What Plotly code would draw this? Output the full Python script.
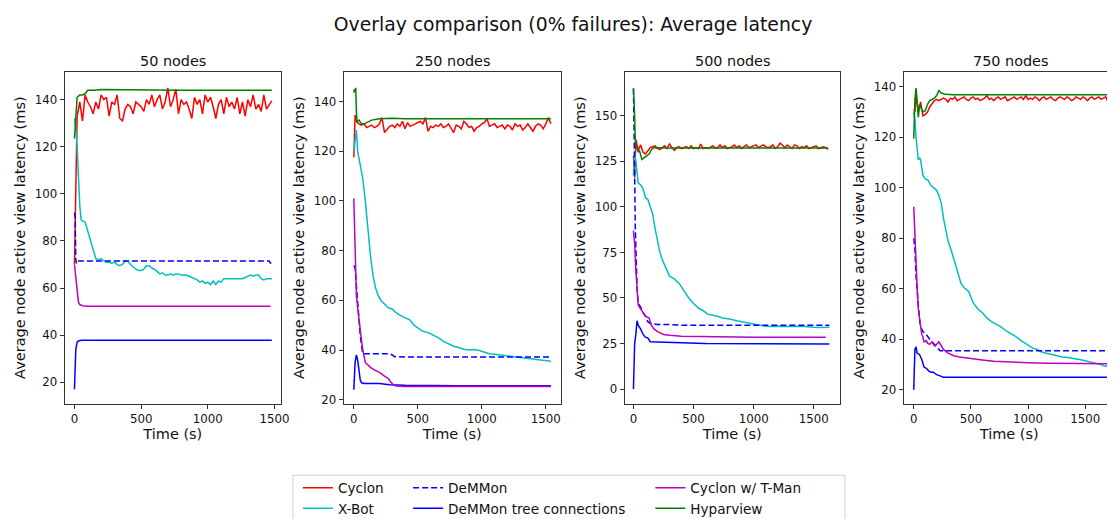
import plotly.graph_objects as go

# ---------------- data ----------------
panel_titles = ["50 nodes", "250 nodes", "500 nodes", "750 nodes"]
series_names = ["Cyclon", "X-Bot", "DeMMon", "DeMMon tree connections", "Cyclon w/ T-Man", "Hyparview"]

# ---- 50 nodes ----
cyclon_50 = [70, 133, 139, 131, 142, 139, 137, 134, 139, 136,
             142, 140, 141, 133, 139, 138, 142, 132, 131, 136,
             138, 137, 134, 139, 138, 137, 135, 140, 138, 142,
             137, 140, 142, 136, 139, 145, 137, 140, 144.5, 134,
             140, 138, 139, 136, 132, 141, 138, 140, 134, 142,
             139, 141, 137, 132, 138, 140, 134, 141, 137, 139,
             136, 141, 134, 139, 133, 140, 137, 142, 136, 138,
             135, 142, 136, 138, 139.5]
cyclon_50_t = [20 * k for k in range(len(cyclon_50))]
xbot_50_t = [0, 10, 20, 30, 40, 50, 60, 80, 100, 120, 140, 160, 180, 200, 220, 240, 260, 280, 300, 320,
             340, 360, 380, 400, 420, 440, 460, 480, 500, 520, 540, 560, 580, 600, 620, 640, 660, 680, 700,
             720, 740, 760, 780, 800, 820, 840, 860, 880, 900, 920, 940, 960, 980, 1000, 1020, 1040, 1060,
             1080, 1100, 1120, 1160, 1200, 1260, 1280, 1300, 1320, 1340, 1360, 1380, 1400, 1420, 1440, 1480]
xbot_50 = [132, 128, 120, 105, 95, 89, 88.5, 88, 84, 80, 76, 72.5, 72, 72.5, 71.5, 71, 71, 70.5, 71, 70,
           69.5, 70, 71.5, 71.5, 70, 69, 68, 67.5, 67.5, 68, 69.5, 69.5, 68.5, 68, 67, 66, 66.5, 65.5, 65.5,
           66, 65.5, 66, 66, 65.5, 65.5, 65.5, 65, 64.5, 64, 63.5, 62.5, 63, 62, 62.5, 61.5, 63, 61.5,
           63, 62.5, 64, 64, 64, 64, 64.5, 65, 65.5, 65, 65.5, 65.5, 64, 63.5, 64, 64]
demmon_50_t = [0, 5, 10, 15, 20, 40, 200, 600, 1000, 1400, 1460, 1470, 1480]
demmon_50 = [92, 90, 72, 70.5, 71.5, 71.5, 71.5, 71.5, 71.5, 71.5, 71.5, 70.5, 71.5]
tree_50_t = [0, 10, 20, 30, 50, 200, 800, 1480]
tree_50 = [17, 34, 37, 37.5, 37.8, 37.8, 37.8, 37.8]
tman_50_t = [0, 10, 20, 30, 40, 60, 100, 600, 1470]
tman_50 = [70, 65, 58, 54, 53, 52.5, 52.3, 52.3, 52.3]
hypar_50_t = [0, 10, 20, 40, 60, 80, 100, 150, 200, 800, 1480]
hypar_50 = [123.5, 135, 141, 142, 142, 142.5, 144, 144, 144.3, 144, 144]

# ---- 250 nodes ----
cyclon_250 = [117.5, 134.5,
              132, 131, 130.5, 131, 129.5, 130, 130.5, 129.5, 130, 131,
              133.5, 127.5, 129, 130, 130.5, 129.5, 131, 130, 132, 129,
              131.5, 130, 130.5, 131, 131.5, 132, 131, 133.5, 128, 130,
              129.5, 130.5, 130, 131, 129.5, 130, 131, 129, 127.5, 130.5,
              130, 129, 132, 131, 129.5, 130, 128, 129.5, 130, 131,
              131.5, 133, 130, 130.5, 131, 129.5, 130, 130.5, 129, 130.5,
              130, 128.5, 131, 130, 130.5, 128.5, 129.5, 131, 129.5, 128,
              130, 131, 130.5, 129, 131, 133.5, 131]
cyclon_250_t = [0, 10] + [20 * k for k in range(1, len(cyclon_250) - 1)]
xbot_250_t = [0, 10, 20, 30, 50, 70, 90, 110, 130, 150, 170, 190, 210, 230, 250, 270, 300, 330, 360, 400,
              440, 470, 500, 540, 580, 620, 660, 700, 740, 780, 820, 860, 900, 940, 980, 1020, 1060, 1100,
              1150, 1200, 1250, 1300, 1350, 1400, 1450, 1500, 1540]
xbot_250 = [120, 125, 128.5, 120, 115, 109, 100, 88, 78, 70, 65, 62, 60, 59, 58, 57, 56.5, 55, 54, 53,
            52, 50, 49, 47.5, 47, 46, 45, 43.5, 42.5, 41.5, 41, 40.3, 40, 40.2, 39.8, 39, 38.5, 38.3,
            38, 37.5, 37.2, 37, 36.7, 36.3, 36, 35.7, 35.5]
demmon_250_t = [0, 10, 20, 30, 40, 50, 60, 70, 100, 200, 280, 300, 320, 400, 1000, 1540]
demmon_250 = [74, 73, 66, 58, 52, 46, 42, 38.5, 38.5, 38.5, 38.5, 38, 37.3, 37.2, 37.2, 37.2]
tree_250_t = [0, 10, 20, 30, 40, 50, 60, 80, 200, 280, 400, 800, 1540]
tree_250 = [24, 35, 38, 36, 32, 28, 26.8, 26.5, 26.5, 26, 25.8, 25.6, 25.6]
tman_250_t = [0, 5, 10, 20, 30, 40, 50, 60, 70, 80, 90, 100, 130, 160, 200, 240, 270, 290, 310, 330,
              400, 1000, 1540]
tman_250 = [101, 90, 78, 62, 57, 52, 48, 44, 40, 37, 35, 34.5, 33, 32, 31, 29.5, 28.5, 27, 26, 25.5,
            25.3, 25.3, 25.3]
hypar_250_t = [0, 5, 10, 15, 20, 25, 40, 60, 80, 100, 140, 200, 300, 400, 1000, 1540]
hypar_250 = [143.5, 145, 144, 145.5, 136, 132, 132.5, 131, 131, 131.5, 132.5, 133, 133.2, 133, 133, 133]

# ---- 500 nodes ----
cyclon_500 = [128, 116,
              137, 131, 134, 130, 129, 131, 132.5, 133, 133.5, 132,
              131.5, 132.5, 133.5, 132, 134.5, 132.5, 131, 132.5, 133, 132,
              132.5, 133, 132, 133.5, 132, 132.5, 132, 134.5, 132, 132.5,
              132, 133, 133.5, 132.5, 132.5, 134, 132.5, 133.5, 132, 132.5,
              133, 134, 132.5, 133.5, 132, 133, 134, 132.5, 133, 133.5,
              134, 132.5, 133.5, 134, 133, 132.5, 133, 134, 132, 133,
              135, 133.5, 132.5, 134, 133, 132, 134, 133.5, 132, 133,
              132.5, 133.5, 132, 132.5, 133, 133.5, 132, 132.5, 133, 132.5,
              131.5]
cyclon_500_t = [0, 10] + [20 * k for k in range(1, len(cyclon_500) - 1)]
xbot_500_t = [0, 10, 20, 30, 40, 60, 80, 100, 120, 140, 160, 180, 200, 220, 240, 260, 280, 300, 340, 380,
              420, 460, 500, 540, 580, 620, 660, 700, 740, 800, 860, 900, 960, 1000, 1050, 1100, 1150,
              1200, 1300, 1400, 1500, 1560, 1630]
xbot_500 = [117, 130, 125, 120, 113, 112, 110, 105, 104, 100, 96, 88, 82, 75, 71, 68, 64, 62, 60.5, 58,
            54, 50, 47, 44.5, 43, 41, 40.5, 40, 39, 38.5, 37.5, 37, 36.5, 36, 35.5, 34.5, 34.3,
            34.5, 34.3, 34.5, 34, 33.8, 34]
demmon_500_t = [0, 5, 10, 15, 20, 30, 40, 60, 80, 100, 120, 140, 200, 300, 400, 1000, 1630]
demmon_500 = [165, 150, 120, 90, 70, 55, 47, 45, 42, 40, 37, 36, 35.5, 35.5, 35, 35, 35]
tree_500_t = [0, 10, 20, 30, 40, 60, 80, 100, 120, 140, 200, 400, 600, 1630]
tree_500 = [0, 25, 30, 37.5, 35, 33, 30, 28.5, 28, 26, 25.8, 25.3, 25, 24.8]
tman_500_t = [0, 10, 20, 30, 40, 60, 80, 100, 130, 150, 170, 200, 250, 300, 400, 600, 800, 1000, 1600]
tman_500 = [87, 80, 65, 55, 46, 44, 42, 40, 39, 35, 33, 31.5, 30, 29.5, 29, 28.8, 28.7, 28.5, 28.5]
hypar_500_t = [0, 5, 10, 15, 20, 30, 40, 50, 60, 70, 90, 110, 130, 150, 170, 200, 300, 1000, 1620]
hypar_500 = [165, 160, 150, 137, 133, 132, 130, 131, 128, 126, 127, 128, 129, 131.5, 132.5, 132.5,
             132.3, 132.3, 132.3]

# ---- 750 nodes ----
cyclon_750 = [131, 130,
              137, 130, 134, 128.5, 129, 130, 132, 133.5, 134.5, 135,
              134.5, 135, 135.5, 135, 134, 135.5, 135, 136, 134.5, 135,
              135.5, 136, 135, 134.5, 135.5, 136, 135, 135.5, 134.5, 135,
              135.5, 136.5, 135, 135.5, 134.5, 135.5, 136, 135, 135.5, 136,
              134.5, 135, 135.5, 136, 135, 135.5, 136, 135, 136.5, 135,
              135.5, 135, 136, 135.5, 134.5, 135.5, 136, 135, 135.5, 136,
              135, 134.5, 135.5, 136, 135.5, 135, 136, 135.5, 134.5, 135,
              136, 135.5, 135, 136, 135.5, 134.5, 135.5, 136, 135, 135.5,
              136, 135, 135.5, 136, 134]
cyclon_750_t = [0, 10] + [20 * k for k in range(1, len(cyclon_750) - 1)]
xbot_750_t = [0, 10, 20, 30, 40, 50, 60, 70, 80, 100, 125, 150, 175, 200, 220, 240, 260, 280, 300, 330,
              360, 390, 414, 440, 480, 520, 560, 600, 640, 680, 720, 760, 820, 880, 940, 1000, 1040,
              1080, 1120, 1160, 1200, 1250, 1300, 1350, 1400, 1450, 1500, 1550, 1600, 1650, 1680, 1700]
xbot_750 = [130, 127, 120, 115, 111, 112, 111, 108, 105, 103.5, 103, 101, 100, 99, 97, 94, 88, 83, 79, 75,
            70, 66, 62, 60.5, 59, 54.5, 52, 50.5, 48.5, 47, 46, 45, 43, 41.5, 39.5, 37.5, 36.5,
            36, 35, 34.5, 34, 33.5, 33, 32.8, 32.5, 32, 31.5, 31, 30.5, 29.8, 29.3, 29.7]
demmon_750_t = [0, 10, 20, 30, 40, 50, 60, 80, 100, 120, 140, 160, 180, 200, 230, 300, 1000, 1700]
demmon_750 = [80, 76, 65, 58, 52, 48, 45, 43, 42.5, 41, 40, 39, 38, 37, 35.5, 35.5, 35.5, 35.5]
tree_750_t = [0, 10, 20, 30, 50, 70, 90, 110, 130, 150, 170, 200, 230, 260, 400, 1700]
tree_750 = [20, 36, 37, 34.5, 34, 32, 29, 28.5, 27.5, 27, 27, 26, 25.5, 25, 25, 25]
tman_750_t = [0, 10, 20, 30, 40, 50, 60, 70, 80, 90, 110, 120, 140, 160, 180, 200, 220, 240, 260, 300,
              350, 400, 500, 600, 700, 800, 1000, 1200, 1500, 1700]
tman_750 = [92.5, 80, 68, 60, 52, 48, 44, 42, 41, 39, 39.5, 38.5, 38, 39, 37.5, 38, 39, 37.5, 36, 34.5,
            33.5, 33, 32.3, 31.8, 31.3, 31, 30.7, 30.5, 30.3, 30.3]
hypar_750_t = [0, 10, 20, 30, 40, 50, 60, 70, 80, 100, 120, 140, 160, 180, 200, 220, 240, 280, 350, 500,
               1700]
hypar_750 = [119.5, 135, 139.5, 134, 128, 133, 132, 130.5, 130, 130.5, 133, 134.5, 135, 135.5, 136.5,
             138.5, 137.5, 137, 136.8, 136.8, 136.8]

panels = [
    [(cyclon_50_t, cyclon_50), (xbot_50_t, xbot_50), (demmon_50_t, demmon_50),
     (tree_50_t, tree_50), (tman_50_t, tman_50), (hypar_50_t, hypar_50)],
    [(cyclon_250_t, cyclon_250), (xbot_250_t, xbot_250), (demmon_250_t, demmon_250),
     (tree_250_t, tree_250), (tman_250_t, tman_250), (hypar_250_t, hypar_250)],
    [(cyclon_500_t, cyclon_500), (xbot_500_t, xbot_500), (demmon_500_t, demmon_500),
     (tree_500_t, tree_500), (tman_500_t, tman_500), (hypar_500_t, hypar_500)],
    [(cyclon_750_t, cyclon_750), (xbot_750_t, xbot_750), (demmon_750_t, demmon_750),
     (tree_750_t, tree_750), (tman_750_t, tman_750), (hypar_750_t, hypar_750)],
]

# ---------------- styling ----------------
W, H = 1115, 519
colors = ["#ff0000", "#00bfbf", "#0000ff", "#0000ff", "#bf00bf", "#008000"]
dashes = ["solid", "solid", "6px,3px", "solid", "solid", "solid"]
legend_ids = ["legend", "legend", "legend2", "legend2", "legend3", "legend3"]

x_px = [(57, 275), (338, 557), (621, 838), (902, 1115)]
y_px = (64, 398)
x_ranges = [[-74, 1549], [-80, 1619], [-74, 1718], [-89.5, 1761]]
y_ranges = [[10.9, 151.9], [18.4, 152], [-8, 174.2], [14.5, 146]]
y_ticks = [list(range(20, 141, 20)), list(range(20, 141, 20)), list(range(0, 151, 25)), list(range(20, 141, 20))]

FONT = "DejaVu Sans"
fig = go.Figure()

for p, series in enumerate(panels):
    ax = "" if p == 0 else str(p + 1)
    for s, (tx, ty) in enumerate(series):
        fig.add_trace(go.Scatter(
            x=tx, y=ty, mode="lines", name=series_names[s],
            line=dict(color=colors[s], width=1.5, dash=dashes[s]),
            xaxis="x" + ax, yaxis="y" + ax,
            showlegend=(p == 0), legend=legend_ids[s],
            hoverinfo="skip"))

axis_common = dict(showgrid=False, zeroline=False, showline=True, linecolor="#333", linewidth=1,
                   ticks="outside", ticklen=4, tickcolor="#333", tickwidth=1,
                   tickfont=dict(family=FONT, size=11.8, color="#111"))
layout = {}
for p in range(4):
    ax = "" if p == 0 else str(p + 1)
    x0, x1 = x_px[p]
    layout["xaxis" + ax] = dict(
        axis_common, domain=[x0 / W, x1 / W], range=x_ranges[p], anchor="y" + ax,
        tickvals=[0, 500, 1000, 1500], mirror=True,
        title=dict(text="Time (s)", font=dict(family=FONT, size=14.5, color="#111"), standoff=3))
    layout["yaxis" + ax] = dict(
        axis_common, domain=[1 - y_px[1] / H, 1 - y_px[0] / H], range=y_ranges[p], anchor="x" + ax,
        tickvals=y_ticks[p], mirror=(p < 3),
        title=dict(text="Average node active view latency (ms)",
                   font=dict(family=FONT, size=14.5, color="#111"), standoff=5))

annotations = []
for p in range(4):
    x0, x1 = x_px[p]
    cx = (x0 + 1117) / 2 if p == 3 else (x0 + x1) / 2
    annotations.append(dict(text=panel_titles[p], x=cx / W,
                            y=1 - y_px[0] / H, xref="paper", yref="paper",
                            xanchor="center", yanchor="bottom", yshift=1, showarrow=False,
                            font=dict(family=FONT, size=14.4, color="#111")))

leg_common = dict(font=dict(family=FONT, size=13.6, color="#111"), bgcolor="rgba(0,0,0,0)",
                  xanchor="left", yanchor="top", orientation="v", tracegroupgap=0)
layout["legend"] = dict(leg_common, x=292 / W, y=1 - 467 / H)
layout["legend2"] = dict(leg_common, x=403 / W, y=1 - 467 / H)
layout["legend3"] = dict(leg_common, x=647 / W, y=1 - 467 / H)

fig.update_layout(
    width=W, height=H, margin=dict(l=0, r=0, t=0, b=0),
    paper_bgcolor="white", plot_bgcolor="white",
    title=dict(text="Overlay comparison (0% failures): Average latency", x=565 / W, xanchor="center",
               y=1 - 16 / H, yanchor="middle", font=dict(family=FONT, size=18.8, color="#111")),
    annotations=annotations,
    shapes=[dict(type="rect", xref="paper", yref="paper", x0=287 / W, x1=843 / W,
                 y0=1 - 518 / H, y1=1 - 470 / H, line=dict(color="#d0d0d0", width=1),
                 fillcolor="rgba(255,255,255,0.8)", layer="below")],
    **layout)

fig.write_html("out.html")
